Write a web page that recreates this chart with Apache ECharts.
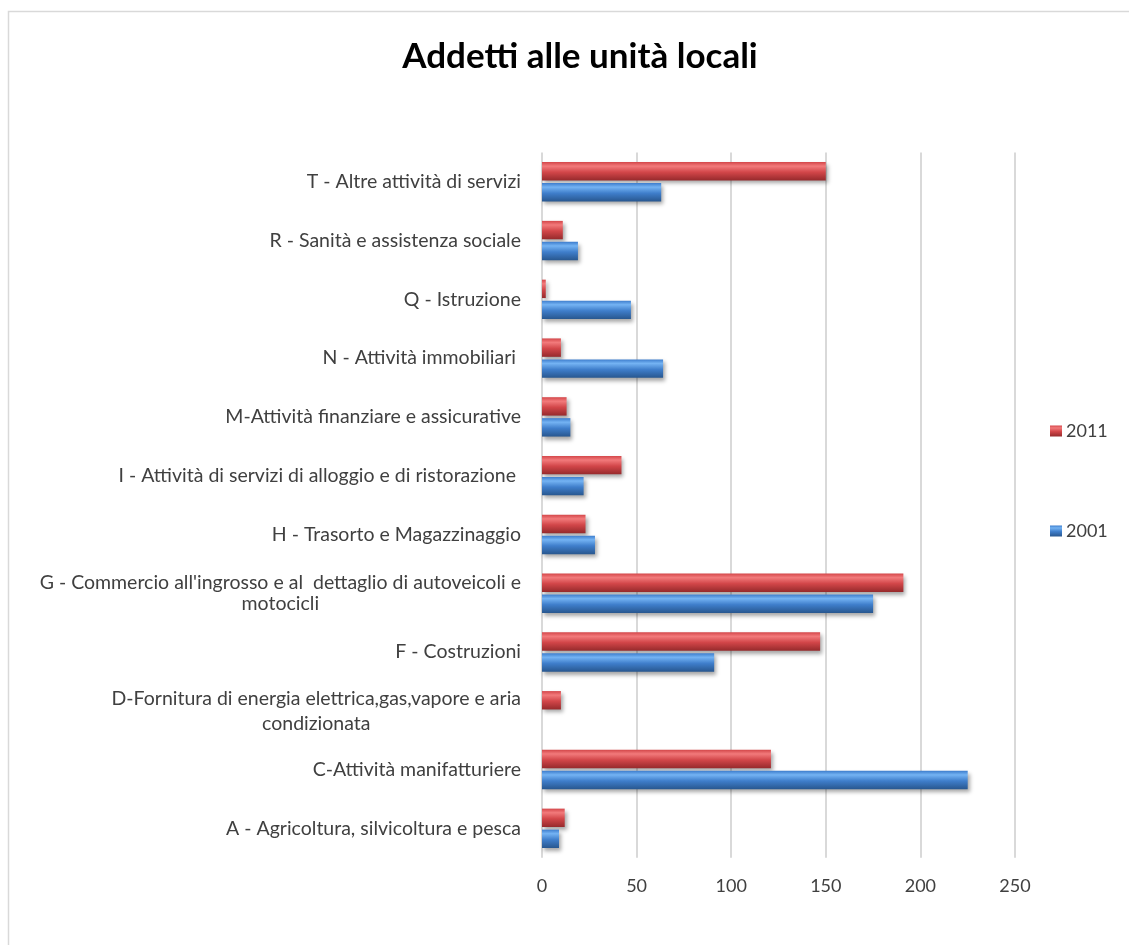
<!DOCTYPE html>
<html>
<head>
<meta charset="utf-8">
<script src="https://cdn.jsdelivr.net/npm/echarts@6/dist/echarts.min.js"></script>
<style>
  html, body { margin: 0; padding: 0; background: #ffffff; }
  #chart { width: 1129px; height: 945px; }
</style>
</head>
<body>
<div id="chart"></div>
<script>
// Sectors, listed bottom to top as they appear on the vertical axis
const categories = [
  'A - Agricoltura, silvicoltura e pesca',
  'C-Attività manifatturiere',
  'D-Fornitura di energia elettrica,gas,vapore e aria\ncondizionata',
  'F - Costruzioni',
  "G - Commercio all'ingrosso e al  dettaglio di autoveicoli e\nmotocicli",
  'H - Trasorto e Magazzinaggio',
  'I - Attività di servizi di alloggio e di ristorazione ',
  'M-Attività finanziare e assicurative',
  'N - Attività immobiliari ',
  'Q - Istruzione',
  'R - Sanità e assistenza sociale',
  'T - Altre attività di servizi'
];
const values2011 = [12, 121, 10, 147, 191, 23, 42, 13, 10, 2, 11, 150];
const values2001 = [9, 225, 0, 91, 175, 28, 22, 15, 64, 47, 19, 63];
const xTicks = [0, 50, 100, 150, 200, 250];

const FONT = 'Lato';
const LABEL_SIZE = 19.5;

// Vertical gradient giving the bars a rounded, glossy look
function glossy(top, hi, mid, bottom) {
  return new echarts.graphic.LinearGradient(0, 0, 0, 1, [
    { offset: 0, color: top },
    { offset: 0.22, color: hi },
    { offset: 0.55, color: mid },
    { offset: 1, color: bottom }
  ]);
}
const redFill = glossy('#d4474a', '#f27a7b', '#d24649', '#962a2c');
const blueFill = glossy('#3d7dcd', '#74b3f3', '#3f7ecb', '#28578f');

const barStyle = {
  shadowColor: 'rgba(0,0,0,0.35)',
  shadowBlur: 4,
  shadowOffsetX: 2,
  shadowOffsetY: 3
};

const chart = echarts.init(document.getElementById('chart'), null, { renderer: 'canvas' });

chart.setOption({
  backgroundColor: '#ffffff',
  animation: false,
  graphic: [{
    type: 'rect',
    shape: { x: 8.5, y: 11.5, width: 1200, height: 1000 },
    style: { fill: 'none', stroke: '#d9d9d9', lineWidth: 1.5 },
    silent: true
  }],
  title: {
    text: 'Addetti alle unità locali',
    left: 575,
    top: 34,
    textAlign: 'center',
    textStyle: { fontFamily: FONT, fontSize: 35, fontWeight: 'bold', color: '#000000' }
  },
  legend: {
    data: ['2011', '2001'],
    orient: 'vertical',
    left: 1045,
    top: 417,
    itemWidth: 12,
    itemHeight: 11,
    itemGap: 82,
    icon: 'rect',
    textStyle: { fontFamily: FONT, fontSize: 18, color: '#404040', padding: [0, 0, 0, -1] }
  },
  grid: {
    left: 542,
    right: 114,
    top: 152.4,
    bottom: 87.3,
    containLabel: false
  },
  xAxis: {
    type: 'value',
    min: xTicks[0],
    max: xTicks[xTicks.length - 1],
    interval: 50,
    axisLine: { show: false },
    axisTick: { show: false },
    splitLine: { show: true, lineStyle: { color: '#d9d9d9', width: 2 } },
    axisLabel: { fontFamily: FONT, fontSize: 18, color: '#404040', margin: 19 }
  },
  yAxis: {
    type: 'category',
    data: categories,
    axisLine: { show: false },
    axisTick: { show: false },
    axisLabel: {
      fontFamily: FONT,
      fontSize: LABEL_SIZE,
      color: '#404040',
      margin: 21,
      formatter: function (v) {
        // two-line labels: lines centred on each other, block aligned to the axis
        if (v.indexOf('\n') >= 0) {
          const tag = v.charAt(0) === 'G' ? 'g' : 'd';
          return v.split('\n').map(function (s) { return '{' + tag + '|' + s + '}'; }).join('\n');
        }
        return v;
      },
      rich: {
        g: { align: 'center', fontFamily: FONT, fontSize: LABEL_SIZE, color: '#404040', lineHeight: 21 },
        d: { align: 'center', fontFamily: FONT, fontSize: LABEL_SIZE, color: '#404040', lineHeight: 25 }
      }
    }
  },
  series: [
    {
      name: '2011',
      type: 'bar',
      data: values2011,
      barWidth: 18.4,
      barGap: '14%',
      itemStyle: Object.assign({ color: redFill }, barStyle)
    },
    {
      name: '2001',
      type: 'bar',
      data: values2001,
      barWidth: 18.4,
      barGap: '14%',
      itemStyle: Object.assign({ color: blueFill }, barStyle)
    }
  ]
});
</script>
</body>
</html>
